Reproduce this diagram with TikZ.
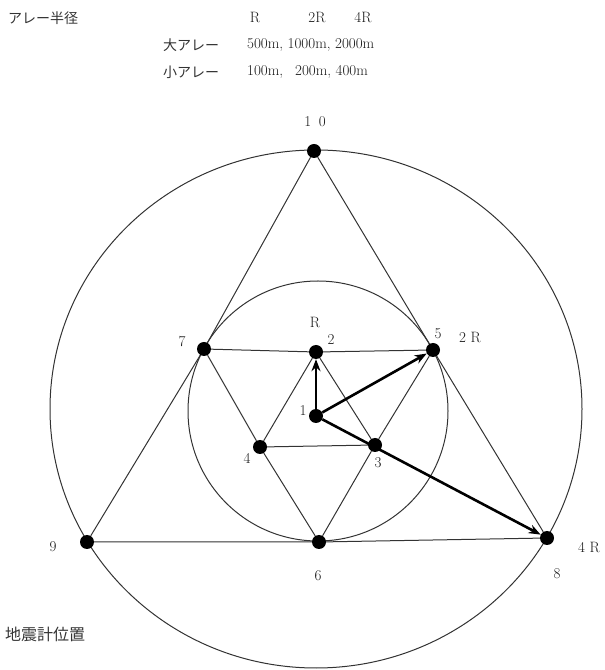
\documentclass[tikz,border=0pt]{standalone}
\usepackage{fontspec}
\newfontfamily\jafont{Noto Sans CJK JP}
\usetikzlibrary{arrows.meta,positioning,calc,backgrounds}

\begin{document}
\begin{tikzpicture}[x=1pt, y=1pt,
  font=\fontsize{15}{18}\selectfont,
  dot/.style={circle, fill=black, inner sep=0pt, minimum size=14pt},
  num/.style={inner sep=0pt, text=black!90},
  ja/.style={inner sep=0pt, anchor=west, text=black!80, font=\jafont\fontsize{14}{16}\selectfont},
  txt/.style={inner sep=0pt, anchor=west, text=black!90},
  ring/.style={draw=black!80, line width=1pt},
  vec/.style={draw=black, line width=2.6pt, -{Stealth[length=12pt,width=9pt]}}]
  \useasboundingbox (0,0) rectangle (605,670);
  % legend
  \node[ja] (hdr) at (8,652) {アレー半径};
  \node[num] (hR) at (255,652) {R};
  \node[num] (h2R) at (317,652) {2R};
  \node[num] (h4R) at (363,652) {4R};
  \node[ja] (big) at (163,625) {大アレー};
  \node[txt] (bigval) at (247,625) {500m, 1000m, 2000m};
  \node[ja] (small) at (163,598) {小アレー};
  \node[txt] (smallval) at (247,598) {100m,\hspace{12pt}200m, 400m};
  % rings
  \draw[ring] (316,261) ellipse [x radius=266, y radius=259];
  \draw[ring] (318,259) circle [radius=130];
  % seismometers
  \node[dot] (p10) at (314,519) {};
  \node[dot] (p9) at (87,128) {};
  \node[dot] (p8) at (547,132) {};
  \node[dot] (p7) at (204,321) {};
  \node[dot] (p5) at (433,320) {};
  \node[dot] (p6) at (319,128) {};
  \node[dot] (p2) at (316,318) {};
  \node[dot] (p4) at (260,223) {};
  \node[dot] (p3) at (375,225) {};
  \node[dot] (p1) at (316,254) {};
  \begin{scope}[on background layer]
    \draw[ring] (p10) -- (p7) -- (p9) -- (p6) -- (p8) -- (p5) -- (p10);
    \draw[ring] (p7) -- (p2) -- (p5) -- (p3) -- (p6) -- (p4) -- (p7);
    \draw[ring] (p2) -- (p3) -- (p4) -- (p2);
  \end{scope}
  \draw[vec] (p1) -- (p2);
  \draw[vec] (p1) -- (p5);
  \draw[vec] (p1) -- (p8);
  % numbers
  \node[num] (n10) at (315,548) {1\enspace 0};
  \node[num] (n7) at (182,328) {7};
  \node[num] (nR) at (315,347) {R};
  \node[num] (n2) at (331,330) {2};
  \node[num] (n5) at (438,336) {5};
  \node[num] (n2R) at (470,333) {2 R};
  \node[num] (n1) at (303,259) {1};
  \node[num] (n4) at (247,212) {4};
  \node[num] (n3) at (378,207) {3};
  \node[num] (n9) at (53,123) {9};
  \node[num] (n6) at (318,94) {6};
  \node[num] (n4R) at (589,123) {4 R};
  \node[num] (n8) at (557,96) {8};
  \node[ja, font=\jafont\fontsize{16}{18}\selectfont] (site) at (5,36) {地震計位置};
\end{tikzpicture}
\end{document}
